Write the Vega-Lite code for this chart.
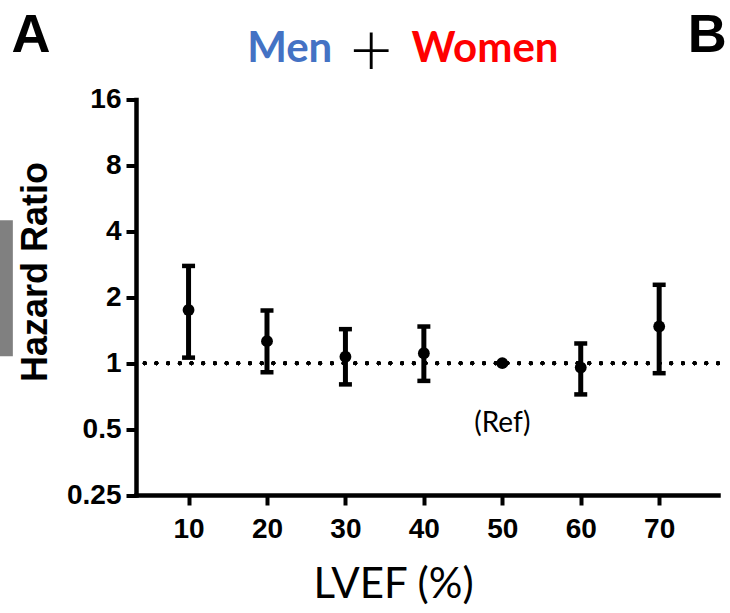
{
  "$schema": "https://vega.github.io/schema/vega-lite/v6.json",
  "width": 582,
  "height": 395.5,
  "autosize": "none",
  "padding": {"left": 136, "top": 99.5, "right": 12, "bottom": 118},
  "background": "white",
  "config": {
    "view": {"stroke": null},
    "axis": {
      "grid": false,
      "domainColor": "black",
      "domainWidth": 4.5,
      "domainCap": "square",
      "tickColor": "black",
      "tickWidth": 4,
      "tickSize": 10,
      "labelColor": "black",
      "labelFont": "Liberation Sans",
      "labelFontSize": 28,
      "labelFontWeight": "bold",
      "titleColor": "black"
    }
  },
  "datasets": {
    "hr": [
      {"lvef": 10, "hr": 1.75, "lo": 1.06, "hi": 2.78},
      {"lvef": 20, "hr": 1.26, "lo": 0.91, "hi": 1.74},
      {"lvef": 30, "hr": 1.07, "lo": 0.80, "hi": 1.43},
      {"lvef": 40, "hr": 1.11, "lo": 0.83, "hi": 1.47},
      {"lvef": 50, "hr": 1.00, "lo": null, "hi": null},
      {"lvef": 60, "hr": 0.955, "lo": 0.72, "hi": 1.23},
      {"lvef": 70, "hr": 1.47, "lo": 0.90, "hi": 2.28}
    ]
  },
  "data": {"name": "hr"},
  "layer": [
    {
      "mark": {"type": "rule", "color": "black", "strokeWidth": 4, "strokeDash": [0, 11.7], "strokeCap": "round"},
      "encoding": {
        "y": {
          "datum": 1,
          "type": "quantitative",
          "scale": {"type": "log", "base": 2, "domain": [0.25, 16], "nice": false},
          "axis": {
            "values": [0.25, 0.5, 1, 2, 4, 8, 16],
            "format": "~g",
            "labelPadding": 5,
            "title": "Hazard Ratio",
            "titleFont": "Liberation Sans",
            "titleFontWeight": "bold",
            "titleFontSize": 36,
            "titlePadding": 12,
            "titleY": 172
          }
        }
      }
    },
    {
      "transform": [{"filter": "datum.lo != null"}],
      "mark": {"type": "rule", "color": "black", "strokeWidth": 5},
      "encoding": {
        "x": {
          "field": "lvef",
          "type": "quantitative",
          "scale": {"domain": [3.3, 77.5], "nice": false, "zero": false},
          "axis": {
            "values": [10, 20, 30, 40, 50, 60, 70],
            "labelPadding": 10,
            "title": "LVEF (%)",
            "titleFont": "Lato",
            "titleFontWeight": "normal",
            "titleFontSize": 42,
            "titleX": 257,
            "titleY": 102,
            "titleBaseline": "alphabetic"
          }
        },
        "y": {"field": "lo", "type": "quantitative"},
        "y2": {"field": "hi"}
      }
    },
    {
      "transform": [{"filter": "datum.lo != null"}],
      "mark": {"type": "tick", "orient": "horizontal", "color": "black", "size": 13, "thickness": 4.5, "opacity": 1},
      "encoding": {
        "x": {"field": "lvef", "type": "quantitative"},
        "y": {"field": "hi", "type": "quantitative"}
      }
    },
    {
      "transform": [{"filter": "datum.lo != null"}],
      "mark": {"type": "tick", "orient": "horizontal", "color": "black", "size": 13, "thickness": 4.5, "opacity": 1},
      "encoding": {
        "x": {"field": "lvef", "type": "quantitative"},
        "y": {"field": "lo", "type": "quantitative"}
      }
    },
    {
      "mark": {"type": "point", "shape": "circle", "filled": true, "color": "black", "size": 140, "opacity": 1},
      "encoding": {
        "x": {"field": "lvef", "type": "quantitative"},
        "y": {"field": "hr", "type": "quantitative"}
      }
    },
    {
      "data": {"values": [{"label": "(Ref)"}]},
      "mark": {"type": "text", "font": "Lato", "fontSize": 28, "color": "black", "baseline": "middle", "align": "center"},
      "encoding": {
        "x": {"datum": 50, "type": "quantitative"},
        "y": {"datum": 0.53, "type": "quantitative"},
        "text": {"field": "label"}
      }
    },
    {
      "data": {"values": [{"label": "Men"}]},
      "mark": {"type": "text", "font": "Lato", "fontSize": 42, "fontWeight": "bold", "color": "#4472C4", "baseline": "alphabetic", "align": "center"},
      "encoding": {
        "x": {"datum": 22.9, "type": "quantitative"},
        "y": {"datum": 23.7, "type": "quantitative"},
        "text": {"field": "label"}
      }
    },
    {
      "data": {"values": [{"label": "+"}]},
      "mark": {"type": "text", "font": "Lato", "fontSize": 74, "fontWeight": 300, "color": "black", "baseline": "alphabetic", "align": "center"},
      "encoding": {
        "x": {"datum": 33.3, "type": "quantitative"},
        "y": {"datum": 20.5, "type": "quantitative"},
        "text": {"field": "label"}
      }
    },
    {
      "data": {"values": [{"label": "Women"}]},
      "mark": {"type": "text", "font": "Lato", "fontSize": 42, "fontWeight": "bold", "color": "#FF0000", "baseline": "alphabetic", "align": "center"},
      "encoding": {
        "x": {"datum": 47.8, "type": "quantitative"},
        "y": {"datum": 23.7, "type": "quantitative"},
        "text": {"field": "label"}
      }
    },
    {
      "data": {"values": [{"label": "A"}]},
      "mark": {"type": "text", "font": "Liberation Sans", "fontSize": 54, "fontWeight": "bold", "color": "black", "baseline": "alphabetic", "align": "center"},
      "encoding": {
        "x": {"datum": -10.1, "type": "quantitative"},
        "y": {"datum": 26.3, "type": "quantitative"},
        "text": {"field": "label"}
      }
    },
    {
      "data": {"values": [{"label": "B"}]},
      "mark": {"type": "text", "font": "Liberation Sans", "fontSize": 54, "fontWeight": "bold", "color": "black", "baseline": "alphabetic", "align": "right"},
      "encoding": {
        "x": {"datum": 78.6, "type": "quantitative"},
        "y": {"datum": 26.3, "type": "quantitative"},
        "text": {"field": "label"}
      }
    },
    {
      "data": {"values": [{"label": "bar"}]},
      "mark": {"type": "rect", "color": "#808080", "opacity": 1},
      "encoding": {
        "x": {"datum": -14.1, "type": "quantitative"},
        "x2": {"datum": -12.4},
        "y": {"datum": 4.5, "type": "quantitative"},
        "y2": {"datum": 1.076}
      }
    }
  ]
}
